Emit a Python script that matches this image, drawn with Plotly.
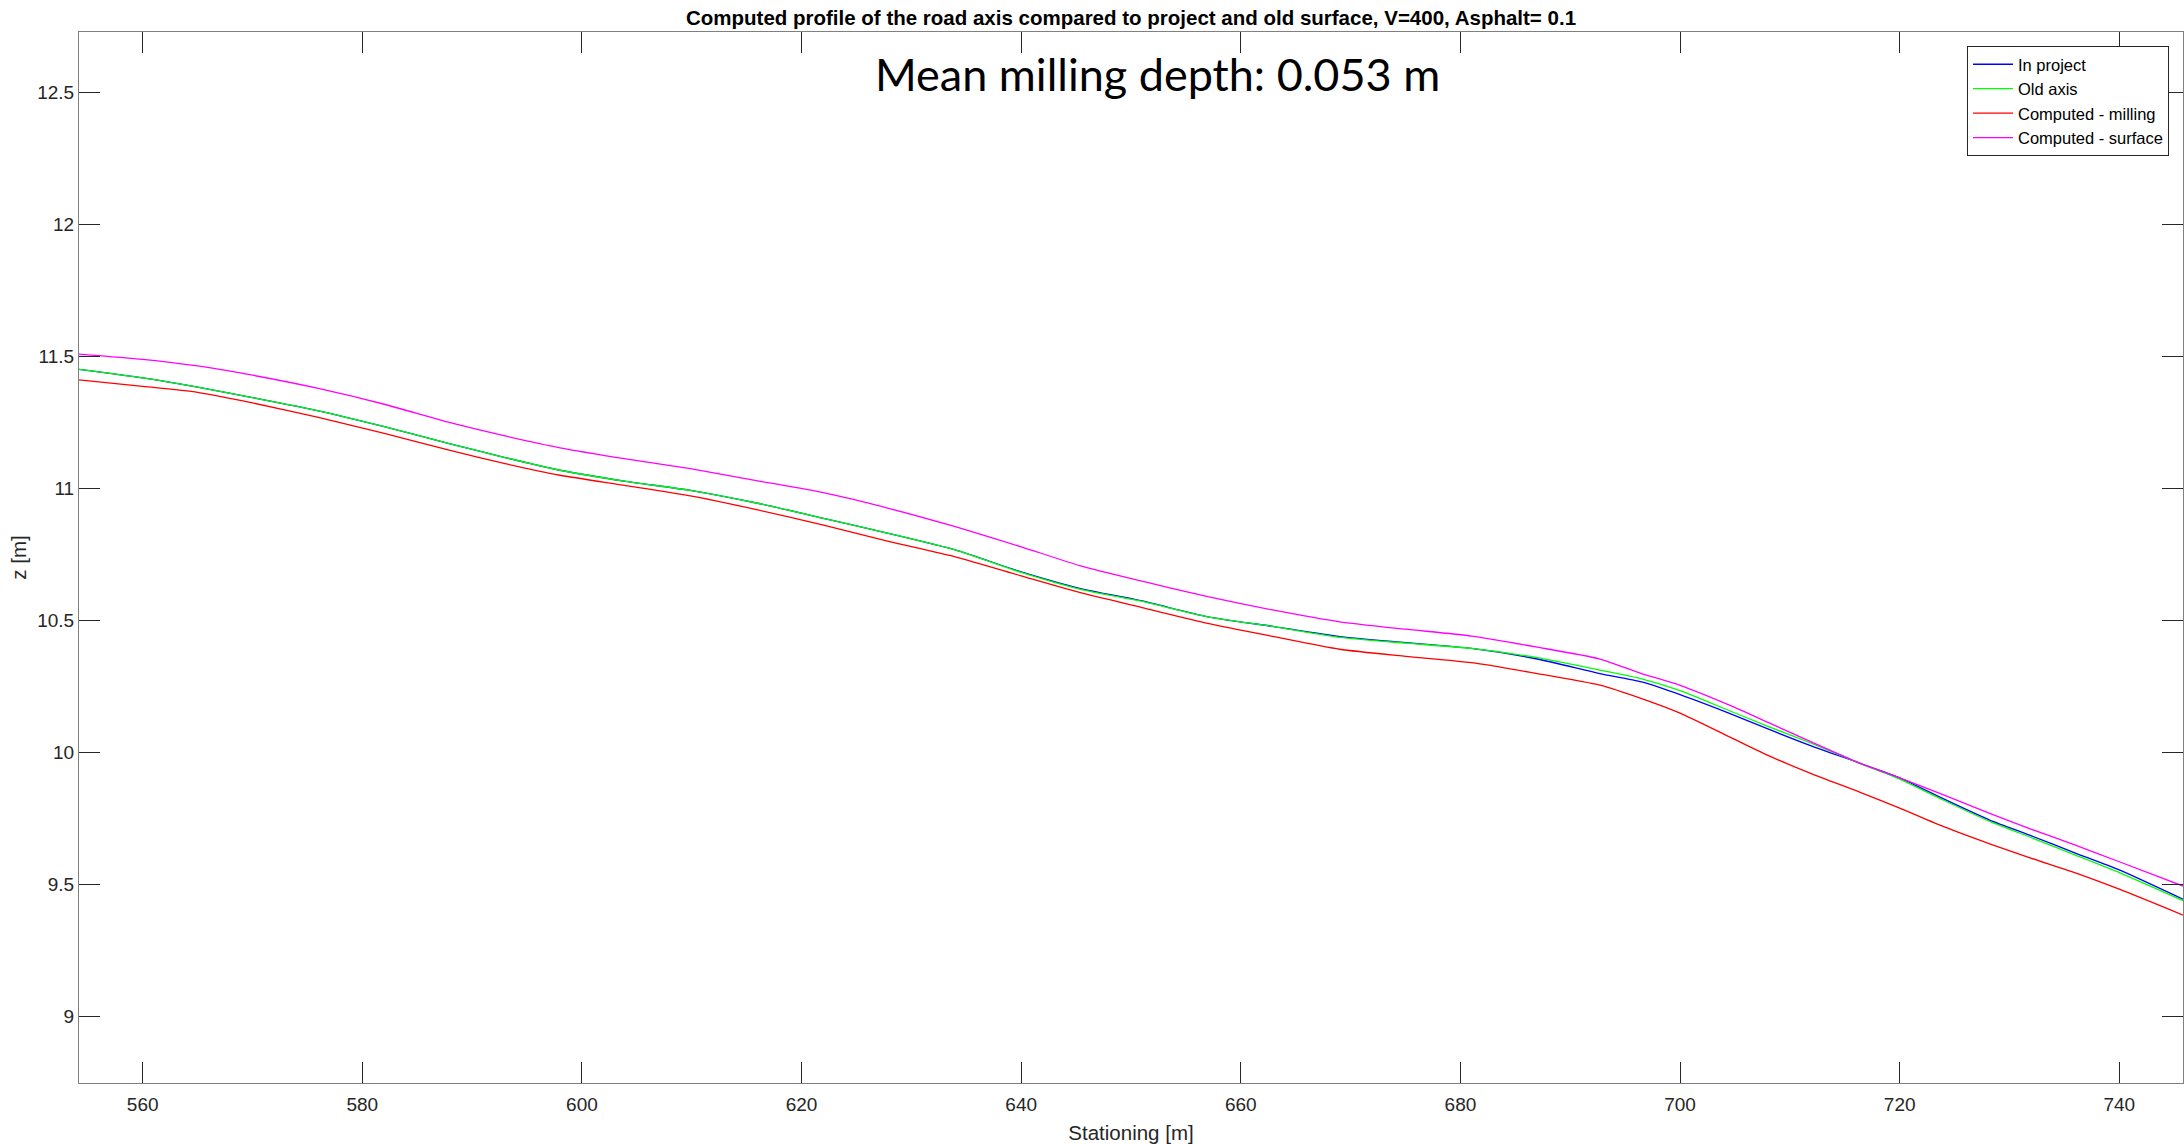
import plotly.graph_objects as go

# Stationing [m]
station = [554.2, 560, 565, 570, 576, 582, 588, 593, 598, 604, 610, 616, 622, 628, 634, 640,
           645.4, 651, 657, 663, 669, 675, 681, 687, 692.7, 696.5, 700, 704.5, 708, 712,
           716.4, 720, 724, 728.2, 732, 736, 740, 745.8]

z_project = [11.452, 11.42, 11.385, 11.345, 11.295, 11.235, 11.17, 11.118, 11.07, 11.028, 10.993,
             10.945, 10.888, 10.83, 10.768, 10.685, 10.622, 10.575, 10.515, 10.478, 10.44, 10.417,
             10.395, 10.355, 10.30, 10.268, 10.22, 10.149, 10.09, 10.025, 9.96, 9.905, 9.825,
             9.745, 9.685, 9.62, 9.556, 9.445]

z_old = [11.452, 11.42, 11.385, 11.345, 11.295, 11.235, 11.17, 11.118, 11.07, 11.028, 10.993,
         10.945, 10.888, 10.83, 10.768, 10.683, 10.619, 10.573, 10.515, 10.478, 10.437, 10.415,
         10.395, 10.36, 10.313, 10.28, 10.235, 10.159, 10.10, 10.035, 9.96, 9.90, 9.82,
         9.74, 9.678, 9.612, 9.546, 9.44]

z_milling = [11.412, 11.388, 11.365, 11.325, 11.27, 11.21, 11.145, 11.095, 11.051, 11.012, 10.972,
             10.92, 10.862, 10.80, 10.742, 10.67, 10.606, 10.55, 10.49, 10.44, 10.392, 10.365,
             10.341, 10.30, 10.256, 10.205, 10.15, 10.06, 9.99, 9.92, 9.85, 9.79, 9.72,
             9.655, 9.60, 9.545, 9.483, 9.385]

z_surface = [11.51, 11.49, 11.465, 11.43, 11.38, 11.32, 11.25, 11.20, 11.155, 11.113, 11.075,
             11.03, 10.985, 10.925, 10.856, 10.78, 10.708, 10.65, 10.591, 10.54, 10.496, 10.468,
             10.442, 10.40, 10.355, 10.30, 10.255, 10.18, 10.115, 10.04, 9.96, 9.905, 9.84,
             9.77, 9.71, 9.65, 9.587, 9.495]

x_ticks = [560, 580, 600, 620, 640, 660, 680, 700, 720, 740]
y_ticks = [9, 9.5, 10, 10.5, 11, 11.5, 12, 12.5]
y_tick_text = ["9", "9.5", "10", "10.5", "11", "11.5", "12", "12.5"]

series = [
    ("In project", z_project, "#0000ff"),
    ("Old axis", z_old, "#00ff00"),
    ("Computed - milling", z_milling, "#ff0000"),
    ("Computed - surface", z_surface, "#ff00ff"),
]

fig = go.Figure()
for name, z, col in series:
    fig.add_trace(go.Scatter(x=station, y=z, mode="lines", name=name,
                             line=dict(color=col, width=1.3, shape="spline", smoothing=0.6)))

FONT = "Liberation Sans, Arial, sans-serif"
W, H = 2184, 1144
L, R, T, B = 79, 1, 32, 61

axis_common = dict(showline=True, linecolor="#808080", linewidth=1, mirror="ticks",
                   ticks="inside", ticklen=21, tickcolor="#262626", tickwidth=1,
                   showgrid=False, zeroline=False,
                   tickfont=dict(family=FONT, size=19, color="#262626"))

fig.update_layout(
    width=W, height=H,
    margin=dict(l=L, r=R, t=T, b=B),
    paper_bgcolor="white", plot_bgcolor="white",
    title=dict(text="<b>Computed profile of the road axis compared to project and old surface, V=400, Asphalt= 0.1</b>",
               x=0.5, xref="paper", xanchor="center",
               y=1 - 18 / H, yref="container", yanchor="middle",
               font=dict(family=FONT, size=20.5, color="black")),
    xaxis=dict(range=[554.2, 745.8], tickvals=x_ticks, ticklabelstandoff=4,
               title=dict(text="Stationing [m]", font=dict(family=FONT, size=20.5, color="#262626"), standoff=12),
               **axis_common),
    yaxis=dict(range=[8.749, 12.73], tickvals=y_ticks, ticktext=y_tick_text,
               title=dict(text="z [m]", font=dict(family=FONT, size=20.5, color="#262626"), standoff=5),
               **axis_common),
    legend=dict(x=(2169 - L) / (W - L - R), xanchor="right",
                y=(H - B - 46) / (H - T - B), yanchor="top",
                bgcolor="white", bordercolor="#262626", borderwidth=1,
                font=dict(family=FONT, size=16.5, color="black"),
                tracegroupgap=0, itemwidth=40),
    showlegend=True,
)

fig.add_annotation(text="Mean milling depth: 0.053 m",
                   xref="paper", yref="paper",
                   x=(1157.5 - L) / (W - L - R), y=(H - B - 74) / (H - T - B),
                   xanchor="center", yanchor="middle", showarrow=False,
                   font=dict(family="Lato, Open Sans, sans-serif", size=45, color="black"))

fig.write_html("out.html")
